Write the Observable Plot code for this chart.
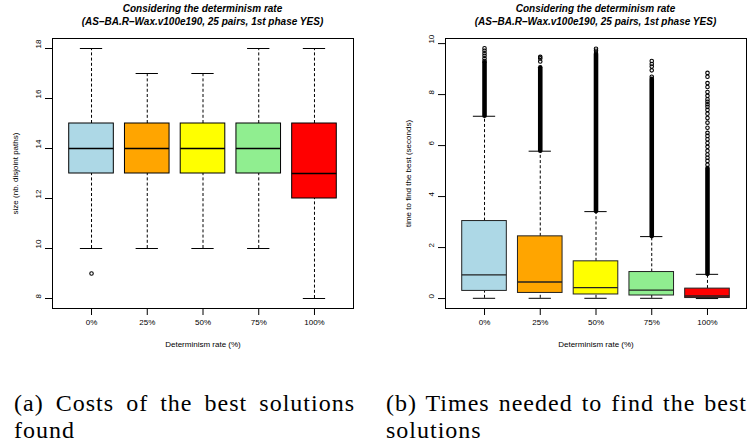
<!DOCTYPE html>
<html>
<head>
<meta charset="utf-8">
<script src="https://cdn.jsdelivr.net/npm/d3@7"></script>
<script src="https://cdn.jsdelivr.net/npm/@observablehq/plot@0.6"></script>
<style>
  html, body { margin: 0; padding: 0; background: #fff; }
  body { width: 747px; height: 446px; overflow: hidden; position: relative; font-family: "Liberation Sans", Arial, sans-serif; }
  .panel { position: absolute; top: 0; }
  .title { position: absolute; top: 3px; width: 301px; text-align: center; font-weight: bold; font-style: italic; font-size: 10px; line-height: 12.5px; color: #000; }
  .cap { position: absolute; font-family: "Liberation Serif", "Times New Roman", serif; font-size: 24px; line-height: 27px; letter-spacing: 1px; word-spacing: 2px; color: #000; white-space: nowrap; }
  .just { text-align: justify; text-align-last: justify; }
</style>
</head>
<body>
<div id="root"></div>
<script>
// ---------- shared categories ----------
const rates = ["0%", "25%", "50%", "75%", "100%"];
const boxColors = ["lightblue", "orange", "yellow", "lightgreen", "red"];

// ---------- panel (a): size (nb. disjoint paths) ----------
const sizeLowWhisker  = [10, 10, 10, 10, 8];
const sizeQ1          = [13, 13, 13, 13, 12];
const sizeMedian      = [14, 14, 14, 14, 13];
const sizeQ3          = [15, 15, 15, 15, 15];
const sizeHighWhisker = [18, 17, 17, 18, 18];
const sizeOutlierRate  = ["0%"];
const sizeOutlierValue = [9];
const sizeTicks = [8, 10, 12, 14, 16, 18];

// ---------- panel (b): time to find the best (seconds) ----------
const timeLowWhisker  = [0.01, 0.01, 0.01, 0.01, 0.0];
const timeQ1          = [0.30, 0.22, 0.16, 0.12, 0.02];
const timeMedian      = [0.93, 0.65, 0.43, 0.33, 0.10];
const timeQ3          = [3.04, 2.44, 1.46, 1.04, 0.39];
const timeHighWhisker = [7.15, 5.78, 3.41, 2.43, 0.95];
// runs of outliers so dense that their circles merge into a solid column
const timeDenseOutlierFrom = [7.15, 5.78, 3.41, 2.43, 0.95];
const timeDenseOutlierTo   = [9.25, 9.05, 9.55, 8.60, 5.10];
// separately visible outliers above the dense runs
const timeOutliers0   = [9.32, 9.42, 9.52, 9.62, 9.72, 9.82];
const timeOutliers25  = [9.30, 9.42, 9.48];
const timeOutliers50  = [9.62, 9.72, 9.80];
const timeOutliers75  = [8.70, 8.95, 9.10, 9.20, 9.32];
const timeOutliers100 = [5.25, 5.40, 5.52, 5.65, 5.80, 5.95, 6.10, 6.25, 6.38, 6.50, 6.70, 6.90, 7.08, 7.25, 7.40, 7.52, 7.62, 7.72, 7.82, 7.95, 8.10, 8.30, 8.45, 8.70, 8.85];
const timeTicks = [0, 2, 4, 6, 8, 10];

// ---------- helpers ----------
function buildStats(low, q1, med, q3, high) {
  return rates.map((r, i) => ({ i: i + 1, rate: r, color: boxColors[i], low: low[i], q1: q1[i], med: med[i], q3: q3[i], high: high[i] }));
}

function boxPanel({ stats, outliers, dense, yDomain, yTicks, yLabel, width, marginRight, ink }) {
  const half = 0.4, staple = 0.2;
  const marks = [
    Plot.ruleX(stats, { x: "i", y1: "q3", y2: "high", stroke: "#000", strokeWidth: 1, strokeDasharray: "3,2.2" }),
    Plot.ruleX(stats, { x: "i", y1: "low", y2: "q1", stroke: "#000", strokeWidth: 1, strokeDasharray: "3,2.2" }),
    Plot.ruleY(stats, { y: "high", x1: d => d.i - staple, x2: d => d.i + staple, stroke: "#000", strokeWidth: 1 }),
    Plot.ruleY(stats, { y: "low", x1: d => d.i - staple, x2: d => d.i + staple, stroke: "#000", strokeWidth: 1 }),
  ];
  if (dense) {
    marks.push(Plot.ruleX(dense, { x: "i", y1: "from", y2: "to", stroke: "#000", strokeWidth: 4.6, strokeLinecap: "round" }));
  }
  marks.push(
    Plot.dot(outliers, { x: "i", y: "value", r: 1.75, stroke: "#000", strokeWidth: 1.1, fill: "none" }),
    Plot.rect(stats, { x1: d => d.i - half, x2: d => d.i + half, y1: "q1", y2: "q3", fill: "color", stroke: ink, strokeWidth: 1 }),
    Plot.ruleY(stats, { y: "med", x1: d => d.i - half, x2: d => d.i + half, stroke: ink, strokeWidth: 1.3 }),
    Plot.frame({ stroke: "#000", strokeWidth: 1 }),
    Plot.axisX({ ticks: [1, 2, 3, 4, 5], tickFormat: d => rates[d - 1], tickSize: 7, tickPadding: 4, fontSize: 8, label: "Determinism rate (%)", labelAnchor: "center", labelOffset: 38, labelArrow: "none" }),
    Plot.axisY({ ticks: yTicks, tickSize: 7, tickFormat: () => "", label: yLabel, labelAnchor: "center", labelOffset: 40, labelArrow: "none", fontSize: 8 }),
    Plot.text(yTicks, { y: d => d, text: d => String(d), frameAnchor: "left", dx: -14.5, rotate: -90, fontSize: 8, fill: "#000" })
  );
  return Plot.plot({
    width, height: 360,
    marginLeft: 52, marginRight, marginTop: 38, marginBottom: 52,
    x: { domain: [0.3, 5.7] },
    y: { domain: yDomain },
    color: { type: "identity" },
    style: { fontFamily: "'Liberation Sans', Arial, sans-serif", fontSize: "8px", color: "#000", background: "#fff", overflow: "visible" },
    marks
  });
}

// ---------- panel (a) ----------
const statsA = buildStats(sizeLowWhisker, sizeQ1, sizeMedian, sizeQ3, sizeHighWhisker);
const outA = sizeOutlierRate.map((r, k) => ({ i: rates.indexOf(r) + 1, value: sizeOutlierValue[k] }));
const plotA = boxPanel({ stats: statsA, outliers: outA, dense: null, yDomain: [7.6, 18.4], yTicks: sizeTicks, yLabel: "size (nb. disjoint paths)", width: 373, marginRight: 20, ink: "#000" });

// ---------- panel (b) ----------
const statsB = buildStats(timeLowWhisker, timeQ1, timeMedian, timeQ3, timeHighWhisker);
const outListsB = [timeOutliers0, timeOutliers25, timeOutliers50, timeOutliers75, timeOutliers100];
const outB = outListsB.flatMap((arr, k) => arr.map(v => ({ i: k + 1, value: v })));
const denseB = rates.map((r, k) => ({ i: k + 1, from: timeDenseOutlierFrom[k], to: timeDenseOutlierTo[k] }));
const plotB = boxPanel({ stats: statsB, outliers: outB, dense: denseB, yDomain: [-0.39, 10.2], yTicks: timeTicks, yLabel: "time to find the best (seconds)", width: 354, marginRight: 1, ink: "#222" });

// ---------- layout ----------
const root = document.getElementById("root");
function place(el, left) { const d = document.createElement("div"); d.className = "panel"; d.style.left = left + "px"; d.appendChild(el); root.appendChild(d); }
place(plotA, 0);
place(plotB, 393);

function title(left) {
  const t = document.createElement("div");
  t.className = "title";
  t.style.left = left + "px";
  t.innerHTML = "Considering the determinism rate<br>(AS\u2013BA.R\u2013Wax.v100e190, 25 pairs, 1st phase YES)";
  root.appendChild(t);
}
title(52);
title(445);

function captionLine(left, top, width, text, justify) {
  const c = document.createElement("div");
  c.className = "cap" + (justify ? " just" : "");
  c.style.left = left + "px";
  c.style.top = top + "px";
  if (width) c.style.width = width + "px";
  c.textContent = text;
  root.appendChild(c);
}
captionLine(14, 390, 341, "(a) Costs of the best solutions", true);
captionLine(14, 417, null, "found", false);
captionLine(386, 390, null, "(b) Times needed to find the best", false);
captionLine(386, 417, null, "solutions", false);
</script>
</body>
</html>
